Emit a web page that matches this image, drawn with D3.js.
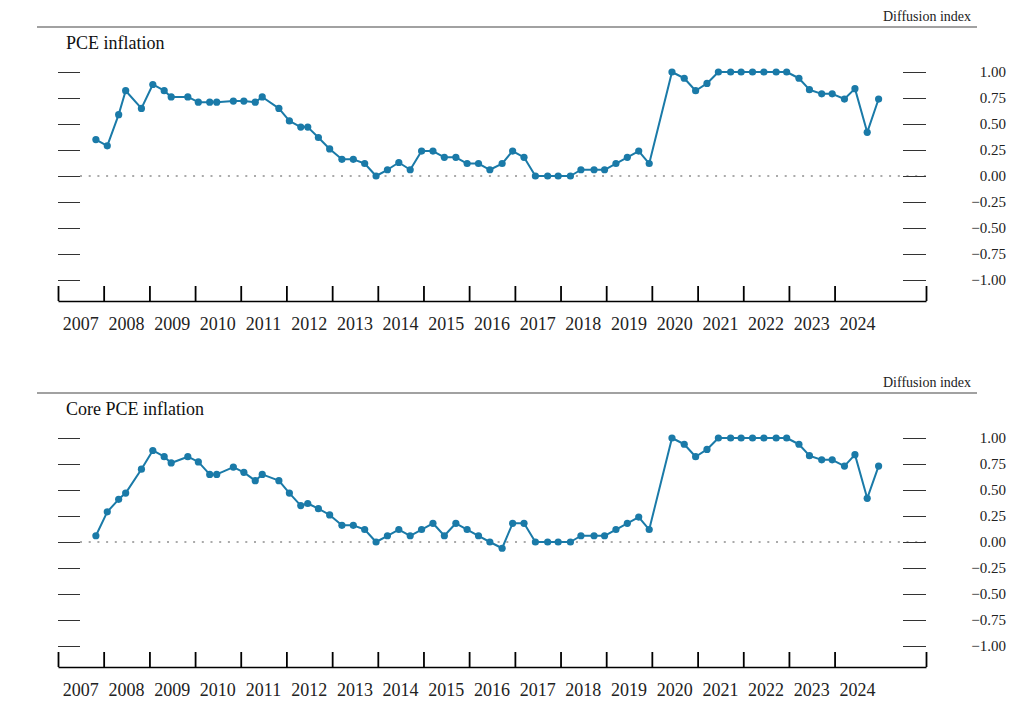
<!DOCTYPE html>
<html>
<head>
<meta charset="utf-8">
<script src="https://cdn.jsdelivr.net/npm/d3@7"></script>
<style>
  html, body { margin: 0; padding: 0; background: #fff; }
  svg { display: block; }
  text { font-family: "Liberation Serif", "Times New Roman", serif; fill: #222; }
</style>
</head>
<body>
<svg id="chart" width="1023" height="714"></svg>
<script>
// FOMC Summary of Economic Projections dates
const dates = [
  "2007-10-31",
  "2008-01-30","2008-04-30","2008-06-25","2008-10-29",
  "2009-01-28","2009-04-29","2009-06-24","2009-11-04",
  "2010-01-27","2010-04-28","2010-06-23","2010-11-03",
  "2011-01-26","2011-04-27","2011-06-22","2011-11-02",
  "2012-01-25","2012-04-25","2012-06-20","2012-09-13","2012-12-12",
  "2013-03-20","2013-06-19","2013-09-18","2013-12-18",
  "2014-03-19","2014-06-18","2014-09-17","2014-12-17",
  "2015-03-18","2015-06-17","2015-09-17","2015-12-16",
  "2016-03-16","2016-06-15","2016-09-21","2016-12-14",
  "2017-03-15","2017-06-14","2017-09-20","2017-12-13",
  "2018-03-21","2018-06-13","2018-09-26","2018-12-19",
  "2019-03-20","2019-06-19","2019-09-18","2019-12-11",
  "2020-06-10","2020-09-16","2020-12-16",
  "2021-03-17","2021-06-16","2021-09-22","2021-12-15",
  "2022-03-16","2022-06-15","2022-09-21","2022-12-14",
  "2023-03-22","2023-06-14","2023-09-20","2023-12-13",
  "2024-03-20","2024-06-12","2024-09-18","2024-12-18"
];

const pceValues = [
  0.35,
  0.29, 0.59, 0.82, 0.65,
  0.88, 0.82, 0.76, 0.76,
  0.71, 0.71, 0.71, 0.72,
  0.72, 0.71, 0.76, 0.65,
  0.53, 0.47, 0.47, 0.37, 0.26,
  0.16, 0.16, 0.12, 0.00,
  0.06, 0.13, 0.06, 0.24,
  0.24, 0.18, 0.18, 0.12,
  0.12, 0.06, 0.12, 0.24,
  0.18, 0.00, 0.00, 0.00,
  0.00, 0.06, 0.06, 0.06,
  0.12, 0.18, 0.24, 0.12,
  1.00, 0.94, 0.82,
  0.89, 1.00, 1.00, 1.00,
  1.00, 1.00, 1.00, 1.00,
  0.94, 0.83, 0.79, 0.79,
  0.74, 0.84, 0.42, 0.74
];

const corePceValues = [
  0.06,
  0.29, 0.41, 0.47, 0.70,
  0.88, 0.82, 0.76, 0.82,
  0.77, 0.65, 0.65, 0.72,
  0.67, 0.59, 0.65, 0.59,
  0.47, 0.35, 0.37, 0.32, 0.26,
  0.16, 0.16, 0.12, 0.00,
  0.06, 0.12, 0.06, 0.12,
  0.18, 0.06, 0.18, 0.12,
  0.06, 0.00, -0.06, 0.18,
  0.18, 0.00, 0.00, 0.00,
  0.00, 0.06, 0.06, 0.06,
  0.12, 0.18, 0.24, 0.12,
  1.00, 0.94, 0.82,
  0.89, 1.00, 1.00, 1.00,
  1.00, 1.00, 1.00, 1.00,
  0.94, 0.83, 0.79, 0.79,
  0.73, 0.84, 0.42, 0.73
];

const panelTitles = ["PCE inflation", "Core PCE inflation"];
const yTickValues = [1.00, 0.75, 0.50, 0.25, 0.00, -0.25, -0.50, -0.75, -1.00];
const yearLabels = [2007,2008,2009,2010,2011,2012,2013,2014,2015,2016,2017,2018,2019,2020,2021,2022,2023,2024];
const unitLabel = "Diffusion index";

const svg = d3.select("#chart");
const parse = d3.timeParse("%Y-%m-%d");
const color = "#1a7aa8";

const x = d3.scaleTime()
  .domain([new Date(2007, 0, 1), new Date(2026, 0, 1)])
  .range([58, 926]);

function drawPanel(values, title, top) {
  const g = svg.append("g").attr("transform", `translate(0,${top})`);
  const y = d3.scaleLinear().domain([-1, 1]).range([280, 72]);

  // Top rule and unit label
  g.append("line").attr("x1", 37).attr("x2", 977).attr("y1", 27).attr("y2", 27)
    .attr("stroke", "#444").attr("stroke-width", 1.2);
  g.append("text").attr("x", 971).attr("y", 21).attr("text-anchor", "end")
    .style("font-size", "14px").text(unitLabel);
  g.append("text").attr("x", 66).attr("y", 49)
    .style("font-size", "18px").style("fill", "#111").text(title);

  // Zero dotted line
  g.append("line").attr("x1", 80).attr("x2", 926).attr("y1", y(0)).attr("y2", y(0))
    .attr("stroke", "#aaa").attr("stroke-width", 2).attr("stroke-dasharray", "2,6.7");

  // Left ticks (no labels)
  const leftAxis = d3.axisRight(y).tickValues(yTickValues).tickSize(22).tickFormat("");
  const la = g.append("g").attr("transform", "translate(58,0)").call(leftAxis);
  la.select(".domain").remove();
  la.selectAll(".tick line").attr("stroke", "#333").attr("stroke-width", 1);

  // Right ticks with labels
  const rightAxis = d3.axisRight(y).tickValues(yTickValues).tickSize(23).tickPadding(57)
    .tickFormat(d => d3.format(".2f")(d).replace("-", "\u2212"));
  const ra = g.append("g").attr("transform", "translate(903,0)").call(rightAxis);
  ra.select(".domain").remove();
  ra.selectAll(".tick line").attr("stroke", "#333").attr("stroke-width", 1);
  ra.selectAll(".tick text")
    .attr("text-anchor", "end").attr("x", 103)
    .style("font-family", "'Liberation Serif', 'Times New Roman', serif")
    .style("font-size", "15px").style("fill", "#222");

  // X axis baseline with year-boundary ticks
  const tickDates = yearLabels.map(yr => new Date(yr, 0, 1)).concat([new Date(2026, 0, 1)]);
  const xAxis = d3.axisTop(x).tickValues(tickDates).tickSize(15).tickSizeOuter(0).tickFormat("");
  const xa = g.append("g").attr("transform", "translate(0,301)").call(xAxis);
  xa.select(".domain").attr("stroke", "#000").attr("stroke-width", 1.6);
  xa.selectAll(".tick line").attr("stroke", "#000").attr("stroke-width", 1.8);

  // Year labels centered in each year
  g.selectAll("text.year").data(yearLabels).enter().append("text")
    .attr("class", "year")
    .attr("x", d => x(new Date(d, 6, 2)))
    .attr("y", 330)
    .attr("text-anchor", "middle")
    .style("font-size", "18px")
    .text(d => d);

  // Data
  const data = dates.map((d, i) => ({ date: parse(d), v: values[i] }));
  const line = d3.line().x(d => x(d.date)).y(d => y(d.v));
  g.append("path").datum(data).attr("d", line)
    .attr("fill", "none").attr("stroke", color).attr("stroke-width", 2)
    .attr("stroke-linejoin", "round");
  g.selectAll("circle").data(data).enter().append("circle")
    .attr("cx", d => x(d.date)).attr("cy", d => y(d.v)).attr("r", 3.6)
    .attr("fill", color);
}

drawPanel(pceValues, panelTitles[0], 0);
drawPanel(corePceValues, panelTitles[1], 366);
</script>
</body>
</html>
